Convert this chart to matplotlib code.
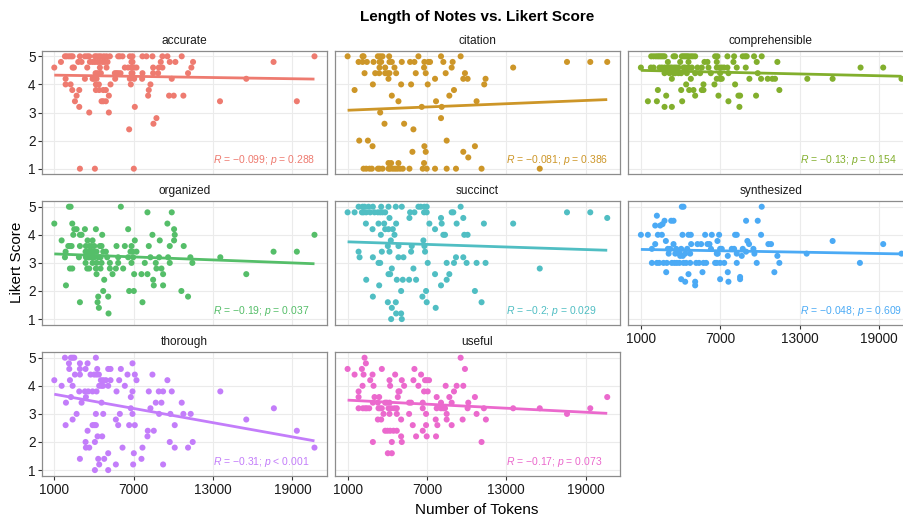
import matplotlib
matplotlib.use("Agg")
import matplotlib.pyplot as plt
import numpy as np

plt.rcParams['font.family'] = ['Liberation Sans', 'DejaVu Sans']
plt.rcParams['mathtext.fontset'] = 'custom'
plt.rcParams['mathtext.it'] = 'Liberation Sans:italic'
plt.rcParams['mathtext.rm'] = 'Liberation Sans'

# ---------------- data ----------------
panels = ["accurate", "citation", "comprehensible", "organized",
          "succinct", "synthesized", "thorough", "useful"]
colors = ["#EE7B70", "#CD9628", "#82AF2D", "#55BE69",
          "#50BEC3", "#4BAAF5", "#C37DFA", "#EB69CD"]
r_labels = [
    ("0.099", "= 0.288"), ("0.081", "= 0.386"), ("0.13", "= 0.154"),
    ("0.19", "= 0.037"), ("0.2", "= 0.029"), ("0.048", "= 0.609"),
    ("0.31", "< 0.001"), ("0.17", "= 0.073"),
]
trend_start = [4.33, 3.08, 4.50, 3.32, 3.75, 3.48, 3.70, 3.49]
trend_end = [4.19, 3.46, 4.29, 2.97, 3.45, 3.32, 2.04, 3.02]
x_ticks = [1000, 7000, 13000, 19000]
y_ticks = [1, 2, 3, 4, 5]

# scores (y levels) and token counts (x) of the notes at each level
accurate_levels = [5.0, 4.8, 4.6, 4.4, 4.2, 4.0, 3.8, 3.6, 3.4, 3.2, 3.0, 2.8, 2.6, 2.4, 1.0]
accurate_x = [
    [1805, 1931, 2107, 2258, 2384, 2937, 3315, 3491, 3642, 4070, 4195, 4371, 4522, 4749, 4950, 5202, 5831, 5957, 6158, 6711, 6913, 7667, 7969, 8422, 9177, 9554, 10636, 20676],
    [1503, 2812, 3063, 3692, 3893, 4070, 4271, 4447, 4648, 4824, 5026, 6837, 6913, 9051, 9731, 10158, 11492, 17581],
    [1000, 2384, 2484, 3491, 4447, 4950, 6334, 6586, 6837, 7038, 7215, 8473, 8900, 9177, 11366],
    [4120, 4271, 4447, 4522, 5579, 5705, 5831, 6007, 6837, 6913, 7667, 8473, 8850, 11114],
    [1855, 3315, 3893, 4019, 4195, 5604, 6711, 7038, 7642, 9882, 15518],
    [1855, 2233, 4145, 4371, 5252, 6787, 8271],
    [2359, 2887, 4145, 4396, 4699, 4900, 8145],
    [2686, 5126, 8095, 9680, 10032, 10762],
    [2560, 4573, 4699, 4900, 13530, 19342],
    [2887, 7089],
    [3642, 5126],
    [8724],
    [8498],
    [6661],
    [2937, 4070, 7013],
]

citation_levels = [5.0, 4.8, 4.6, 4.4, 4.2, 4.0, 3.8, 3.6, 3.4, 3.2, 3.0, 2.8, 2.6, 2.4, 2.0, 1.8, 1.6, 1.4, 1.2, 1.0]
citation_x = [
    [1000, 2131, 2207, 3288, 3464, 3640, 4143, 6355, 8064, 9548],
    [1830, 2131, 2458, 2961, 3413, 3539, 4168, 4344, 5098, 5726, 6053, 6807, 7109, 7235, 8240, 8944, 17592, 19352, 20634],
    [3413, 3841, 4545, 6782, 8869, 13520],
    [2282, 3087, 3388, 3841, 4042, 4168, 4670, 6154, 6908, 8416, 9874],
    [4092, 7612, 9749, 10075, 11433],
    [2911, 5048, 5802, 7059, 11333],
    [1528, 9045],
    [4344, 8693],
    [4846, 7687, 10754],
    [6606, 8115],
    [3464],
    [8064],
    [3791, 5274],
    [5978],
    [1880, 2534, 8492],
    [2886, 6807, 10628],
    [5902, 6908, 9749],
    [10126],
    [4092, 4293, 4846, 6782],
    [2207, 2408, 2659, 2835, 3288, 3413, 3640, 4092, 4218, 4419, 4595, 4771, 4972, 5173, 5676, 6682, 6983, 7612, 8492, 9196, 11131, 15531],
]

comprehensible_levels = [5.0, 4.8, 4.6, 4.4, 4.2, 4.0, 3.8, 3.6, 3.4, 3.2]
comprehensible_x = [
    [1780, 1956, 2133, 2284, 2410, 2535, 2661, 2787, 3467, 3593, 4096, 4222, 4348, 4473, 4599, 4776, 4927, 5103, 6613, 6789, 7544, 8048, 8702, 8878, 9004, 9558, 10137],
    [3039, 3970, 4599, 5808, 6034, 6739, 7997, 9759, 11320],
    [1000, 1755, 1956, 2410, 2586, 2787, 2963, 3089, 3215, 3341, 3517, 3668, 3844, 4222, 4348, 4599, 4851, 5279, 5606, 6110, 6739, 6940, 7116, 7293, 7544, 8249, 8929, 17612, 19324],
    [2787, 3165, 3467, 3593, 3844, 4046, 4473, 5103, 5480, 6286, 6990, 7620, 9835],
    [3341, 4776, 6739, 6990, 7116, 9205, 10087, 10590, 10942, 11144, 13585, 15498, 20708],
    [4423, 5732, 6562, 8123],
    [2284, 4046, 4650, 4977, 5606, 5732, 11471],
    [2913, 5103, 6865, 8375, 8501, 9709],
    [1529, 2208, 4121, 7620],
    [2787, 3341, 8450],
]

organized_levels = [5.0, 4.8, 4.4, 4.2, 4.0, 3.8, 3.6, 3.4, 3.2, 3.0, 2.8, 2.6, 2.4, 2.2, 2.0, 1.8, 1.6, 1.4, 1.2]
organized_x = [
    [2107, 2233, 6032],
    [8045, 9882],
    [1000, 2359, 9554],
    [2510, 2686, 3315, 4145, 6586, 10058],
    [2434, 2937, 3063, 4623, 8422, 10108, 20676],
    [1554, 3516, 3893, 7089, 8976, 10058],
    [2057, 2183, 2308, 2937, 3390, 3642, 3818, 4019, 4447, 4573, 5705, 6334, 6837, 8145, 9731, 10787],
    [1855, 3365, 3516, 3692, 3818, 3994, 4195, 4699, 4900, 6762, 6913, 7215, 17581, 19342],
    [1805, 2862, 3390, 3566, 3642, 3818, 4019, 4321, 4497, 5000, 5831, 6586, 6963, 8271, 8925, 9605, 11291, 13555],
    [3365, 3893, 4195, 4573, 5202, 5831, 6837, 7843, 8674, 9731, 11441],
    [2183, 2359, 3491, 3642, 4145, 4497, 5202, 5655, 6208, 8724, 9102],
    [4195, 5403, 7038, 7592, 8045, 9227, 15518],
    [4774, 8473],
    [1881, 8523, 9227],
    [4699, 6661, 7013, 10611],
    [4321, 5076, 11114],
    [2937, 4271, 7667],
    [4371],
    [5101],
]

succinct_levels = [5.0, 4.8, 4.6, 4.4, 4.2, 4.0, 3.8, 3.6, 3.4, 3.2, 3.0, 2.8, 2.6, 2.4, 2.2, 2.0, 1.8, 1.6, 1.4, 1.2, 1.0]
succinct_x = [
    [1830, 2131, 2282, 2584, 2911, 3539, 4092, 4645, 5098, 6355, 6531, 6807, 6983, 9548],
    [1000, 1528, 2081, 2207, 2408, 2710, 3036, 3288, 3464, 3640, 3841, 5726, 6053, 6782, 6983, 8869, 8994, 17592, 19352],
    [4168, 5676, 8064, 9749, 20634],
    [2383, 3338, 3765, 4670, 7184, 8115, 9246, 11307, 13520],
    [2886, 3841, 4092, 4419, 7612],
    [3514, 4545, 8240, 8366, 9824, 10075],
    [4268, 6732],
    [4042, 4846, 5852, 6807],
    [1830, 3589, 4168, 5802, 6857],
    [1905, 2911, 4846, 5224, 9196, 9749],
    [3338, 3464, 7059, 8492, 9045, 9999, 10754, 11433],
    [4344, 5978, 15531],
    [4092, 4218, 7612, 8693],
    [2408, 4721, 5173, 5651, 6179, 8492],
    [3388, 8064],
    [5048, 6933, 10628],
    [2911, 6657],
    [4042, 4645, 6983, 11131],
    [4344, 7662],
    [4670, 5048],
    [4293, 5098],
]

synthesized_levels = [5.0, 4.68, 4.5, 4.38, 4.33, 4.0, 3.78, 3.67, 3.5, 3.4, 3.33, 3.25, 3.0, 2.67, 2.6, 2.5, 2.42, 2.33, 2.2]
synthesized_x = [
    [4096, 4222, 10137],
    [2208],
    [2787, 3290, 3467, 8954, 9835],
    [2636],
    [2082, 2460],
    [1000, 1529, 2284, 2586, 4146, 4599, 4776, 5858, 6361, 6915, 8123, 8249, 10087],
    [2888, 6789, 9054, 15498],
    [2082, 3467, 4801, 5279, 5556, 6034, 6185, 9180, 10640, 10841, 19324],
    [1831, 3039, 3215, 3668, 4046, 4500, 6300, 6990, 7116, 7871, 8048, 8702, 9508],
    [3794, 8954],
    [3100, 3600, 3920, 4348, 4725, 6739, 6814, 8249, 9583, 13535, 20708],
    [3970, 4171, 7570, 8627, 11320],
    [1831, 2208, 2384, 2712, 2963, 3341, 3542, 3718, 3920, 4222, 4423, 4725, 5178, 5400, 5732, 5933, 6613, 6739, 6990, 7300, 8249, 9759, 11471, 17562],
    [2913, 5656, 7570, 11093],
    [4599],
    [8501],
    [4046, 6990, 8501],
    [4348, 5103, 7620],
    [5103],
]

thorough_levels = [5.0, 4.8, 4.6, 4.4, 4.2, 4.0, 3.8, 3.6, 3.4, 3.2, 3.0, 2.8, 2.6, 2.4, 2.2, 2.0, 1.8, 1.6, 1.4, 1.2, 1.0]
thorough_x = [
    [1805, 2258, 2384, 2510, 4145],
    [2107, 2937, 3516, 6913],
    [2132, 2937, 3365, 4246, 5076, 5252, 6032],
    [2560, 2937, 3742, 4019, 4195, 4371, 6535, 7089, 8422],
    [1000, 2183, 4522, 4699, 4900, 5252, 5906, 7215, 9554],
    [1554, 2384, 4396, 4573, 4699, 5076, 6334],
    [2887, 3315, 3566, 3893, 4195, 5705, 6913, 8145, 8900, 9227, 9882, 13555],
    [2258, 3390, 6787],
    [1881, 3063, 4573, 8674, 9102, 10636],
    [6787, 8271, 17606],
    [2686, 4145, 4699, 5957, 6913, 8925, 9781, 10762, 11316],
    [2384, 5655, 15518],
    [1855, 3893, 4019, 4145, 5831, 6661, 7089, 10108],
    [3516, 8070, 8523, 19342],
    [4271, 4623, 8045],
    [3365, 4070, 9731, 11467],
    [3390, 3642, 6158, 7667, 10108, 11114, 20676],
    [5076, 7013],
    [2937, 4321, 4774, 7592],
    [4396, 5655, 6963, 9227],
    [4070, 5076],
]

useful_levels = [5.0, 4.8, 4.6, 4.4, 4.2, 4.0, 3.8, 3.6, 3.4, 3.2, 3.0, 2.8, 2.6, 2.4, 2.2, 2.0, 1.6]
useful_x = [
    [2282, 9548],
    [2383],
    [1000, 2081, 3589, 6053, 9874],
    [1528, 2207, 2886, 4595, 6556],
    [2710, 4168, 5098, 5978, 6857, 6983, 7159],
    [2131, 2961, 4218, 5274, 6355, 8416, 9246, 9749],
    [1830, 4846, 4922, 6782, 7059, 9045],
    [1830, 3036, 3388, 4796, 7737, 8693, 10628, 20634],
    [2911, 3288, 3841, 3967, 4168, 5651, 5802, 6682, 8064, 8869, 10126],
    [1830, 2156, 2332, 2458, 2634, 3338, 3464, 3589, 4092, 4293, 4545, 4721, 6682, 7737, 8064, 8240, 8366, 10075, 11307, 13520, 15531, 19352],
    [3715, 4168, 4721, 5651, 6933, 8492, 10754, 17592],
    [3288, 3539, 5048, 7662, 8492, 9699, 11458],
    [5927, 6933, 7788, 8869],
    [3841, 4017, 4218, 4469, 4721, 6682],
    [5048, 6179, 6983, 7687],
    [2911, 4344, 5098, 11131],
    [4042, 4344],
]

panel_data = [
    (accurate_levels, accurate_x), (citation_levels, citation_x),
    (comprehensible_levels, comprehensible_x), (organized_levels, organized_x),
    (succinct_levels, succinct_x), (synthesized_levels, synthesized_x),
    (thorough_levels, thorough_x), (useful_levels, useful_x),
]

# ---------------- layout (pixels) ----------------
W, H = 904, 521
fig = plt.figure(figsize=(W / 100, H / 100), dpi=100)
lefts = [41.7, 335.0, 628.3]
tops = [50.7, 201.1, 352.1]
pw, ph = 285.0, 123.6

for i, name in enumerate(panels):
    r, c = divmod(i, 3)
    ax = fig.add_axes([lefts[c] / W, 1 - (tops[r] + ph) / H, pw / W, ph / H])
    levels, xs = panel_data[i]
    x = np.concatenate([np.asarray(g, float) for g in xs])
    y = np.concatenate([np.full(len(g), lv) for lv, g in zip(levels, xs)])
    col = colors[i]
    ax.scatter(x, y, s=19, color=col, edgecolors='none', zorder=3)
    ax.plot([x.min(), x.max()], [trend_start[i], trend_end[i]], color=col,
            lw=2.0, solid_capstyle='butt', zorder=4)
    rv, pv = r_labels[i]
    ax.text(13000, 1.3, r"$\it{R}$ = $-$" + rv + r"; $\it{p}$ " + pv,
            color=col, fontsize=7.5, ha='left', va='center', zorder=5)

    ax.set_xlim(47, 21600)
    ax.set_ylim(0.8, 5.2)
    ax.set_xticks(x_ticks)
    ax.set_yticks(y_ticks)
    ax.set_xticklabels([str(t) for t in x_ticks])
    ax.grid(True, color='#ebebeb', lw=0.8)
    ax.set_axisbelow(True)
    for sp in ax.spines.values():
        sp.set_color('#8c8c8c')
        sp.set_linewidth(0.9)
    ax.tick_params(axis='both', length=2.75, width=0.8, color='#333333',
                   labelsize=9.8, labelcolor='#1a1a1a')
    ax.tick_params(axis='y', pad=1.6)
    ax.tick_params(axis='x', pad=2.5)
    show_x = i >= 5
    show_y = c == 0
    ax.tick_params(axis='x', bottom=show_x, labelbottom=show_x)
    ax.tick_params(axis='y', left=show_y, labelleft=show_y)

    fig.text((lefts[c] + pw / 2) / W, 1 - (tops[r] - 10) / H, name,
             ha='center', va='center', fontsize=8.6, color='#1a1a1a')

fig.text(477 / W, 1 - 16.7 / H, "Length of Notes vs. Likert Score",
         ha='center', va='center', fontsize=11, fontweight='bold', color='black')
fig.text(16.7 / W, 1 - 262 / H, "Likert Score", rotation=90,
         ha='center', va='center', fontsize=11, color='black')
fig.text(477 / W, 1 - 510 / H, "Number of Tokens",
         ha='center', va='center', fontsize=11, color='black')

fig.savefig("out.png", dpi=100)
